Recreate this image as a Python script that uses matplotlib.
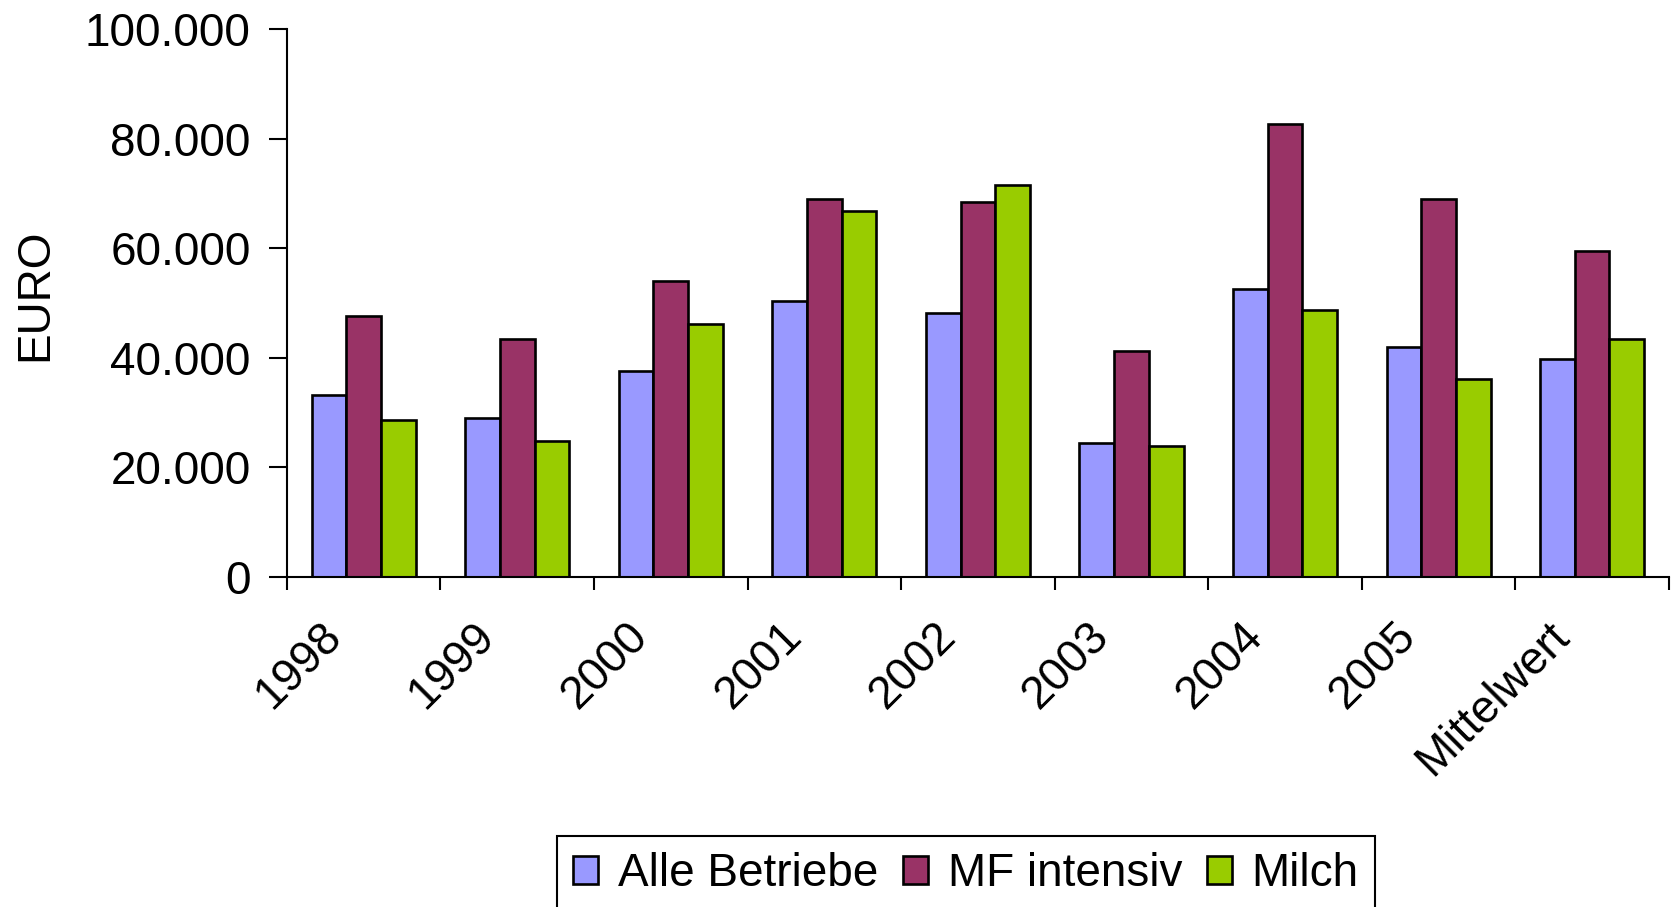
import matplotlib
matplotlib.use("Agg")
import matplotlib.pyplot as plt
import numpy as np
from matplotlib.ticker import FuncFormatter

plt.rcParams["font.family"] = ["Liberation Sans", "DejaVu Sans"]

categories = ["1998", "1999", "2000", "2001", "2002", "2003", "2004", "2005", "Mittelwert"]
alle_betriebe = [33300, 29100, 37600, 50400, 48200, 24400, 52500, 41900, 39800]
mf_intensiv = [47600, 43400, 54100, 69000, 68500, 41300, 82700, 69000, 59500]
milch = [28600, 24900, 46100, 66800, 71500, 23900, 48800, 36100, 43500]

series = [
    ("Alle Betriebe", alle_betriebe, "#9999FF"),
    ("MF intensiv", mf_intensiv, "#993366"),
    ("Milch", milch, "#99CC00"),
]

FS = 33

fig = plt.figure(figsize=(16.8, 9.07), dpi=100)
ax = fig.add_axes([0.1708, 0.3638, 0.8226, 0.6042])

x = np.arange(len(categories))
width = 0.226
for i, (name, values, color) in enumerate(series):
    ax.bar(x + (i - 1) * width, values, width, color=color, edgecolor="black",
           linewidth=1.9, label=name)

ax.set_xlim(-0.5, len(categories) - 0.5)
ax.set_ylim(0, 100000)
ax.set_yticks(np.arange(0, 100001, 20000))
ax.yaxis.set_major_formatter(FuncFormatter(lambda v, p: f"{int(v):,}".replace(",", ".")))

# ticks sit between the groups, names are written under the group centres
ax.set_xticks(np.arange(-0.5, len(categories)), labels=[])
ax.tick_params(axis="x", length=9, width=1.5, direction="out")
ax.tick_params(axis="y", length=13, width=1.5, direction="out", labelsize=FS, pad=13)
for i, cat in enumerate(categories):
    ax.annotate(cat, xy=(i, 0), xycoords=("data", "axes fraction"),
                xytext=(-21, -38), textcoords="offset points", rotation=45,
                ha="right", va="center", rotation_mode="anchor", fontsize=FS)

ax.set_ylabel("EURO", fontsize=FS)
ax.yaxis.set_label_coords(-0.166, 0.515)

for side in ("top", "right"):
    ax.spines[side].set_visible(False)
for side in ("left", "bottom"):
    ax.spines[side].set_linewidth(1.5)

leg = fig.legend(loc="upper center", bbox_to_anchor=(0.575, 0.078), ncol=3, fontsize=FS,
                 frameon=True, fancybox=False, edgecolor="black", framealpha=1,
                 handlelength=0.55, handleheight=0.55, handletextpad=0.42,
                 columnspacing=0.55, borderpad=0.35, borderaxespad=0)
leg.get_frame().set_linewidth(1.5)
for patch in leg.get_patches():
    patch.set_linewidth(1.9)

fig.savefig("out.png", dpi=100)
